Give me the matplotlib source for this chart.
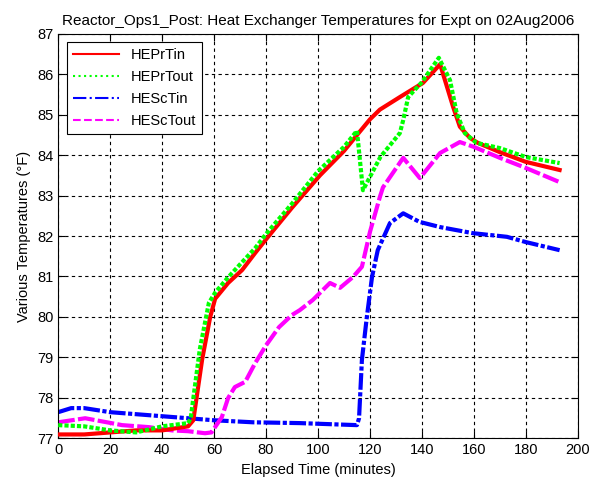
import numpy as np
import matplotlib
matplotlib.use('Agg')
import matplotlib.pyplot as plt
from matplotlib.lines import Line2D

plt.rcParams['font.family'] = ['Liberation Sans', 'DejaVu Sans']

# values (minutes, degF)
t_prtin = [0, 10, 20, 30, 40, 50, 52, 55.4, 58.5, 60.4, 65.4, 70.8, 75.8, 80.4, 90, 100.8,
           110, 116, 120, 123.8, 131.5, 140.4, 147, 152, 154.6, 158.5, 161.5, 170, 180, 193]
T_prtin = [77.1, 77.1, 77.15, 77.2, 77.2, 77.3, 77.45, 78.95, 80.0, 80.45, 80.84, 81.16, 81.58, 81.95,
           82.7, 83.5, 84.1, 84.57, 84.88, 85.12, 85.43, 85.78, 86.24, 85.19, 84.7, 84.42, 84.3,
           84.07, 83.83, 83.63]

t_prtout = [0, 10, 20, 30, 40, 50, 51, 54.5, 58, 60.4, 65, 70, 75.8, 80, 90, 100, 110, 115, 117.3,
            124, 131.5, 132.8, 134.7, 140, 146.5, 150.8, 153.4, 156.5, 161, 170, 180, 193]
T_prtout = [77.33, 77.3, 77.2, 77.15, 77.3, 77.38, 77.5, 79.2, 80.35, 80.6, 80.95, 81.3, 81.7, 82.05,
            82.8, 83.6, 84.2, 84.6, 83.13, 83.95, 84.54, 84.86, 85.43, 85.8, 86.4, 85.85, 85.03, 84.54,
            84.3, 84.17, 83.95, 83.8]

t_sctin = [0, 5, 10, 20, 30, 40, 50, 60, 75, 93, 115, 115.8, 116.9, 118.8, 120.8, 123, 127.7,
           132.8, 139, 147, 159.6, 172.7, 180, 193]
T_sctin = [77.65, 77.75, 77.75, 77.65, 77.6, 77.55, 77.5, 77.45, 77.4, 77.38, 77.33, 77.5, 78.94,
           80.0, 80.99, 81.65, 82.32, 82.56, 82.35, 82.22, 82.07, 81.98, 81.85, 81.65]

t_sctout = [0, 10.4, 24.6, 35, 43.8, 50, 56.5, 59, 63, 65.4, 68, 72, 75.8, 80, 85, 90, 93, 98,
            104.6, 108.5, 113.5, 116.9, 120, 123.8, 125, 132.8, 139.2, 147, 154.6, 160, 170, 180, 193]
T_sctout = [77.4, 77.5, 77.33, 77.28, 77.2, 77.18, 77.13, 77.15, 77.53, 78.0, 78.27, 78.4, 78.86,
            79.3, 79.75, 80.05, 80.17, 80.42, 80.84, 80.72, 80.99, 81.24, 82.1, 82.96, 83.2, 83.93,
            83.43, 84.05, 84.32, 84.2, 83.93, 83.68, 83.33]

xticks = list(range(0, 201, 20))
yticks = list(range(77, 88))

fig = plt.figure(figsize=(6.0, 4.87), dpi=100)
ax = fig.add_axes([0.097, 0.0996, 0.866, 0.8316])

ax.plot(t_prtin, T_prtin, color='#ff0000', lw=3.0, ls='-', zorder=3)
ax.plot(t_prtout, T_prtout, color='#00ff00', lw=3.0, dashes=(1.0, 0.5), zorder=4)
ax.plot(t_sctin, T_sctin, color='#0000ff', lw=3.0, dashes=(4, 0.6, 1, 0.6), zorder=2)
ax.plot(t_sctout, T_sctout, color='#ff00ff', lw=3.0, dashes=(4, 0.8), zorder=2)

ax.set_xlim(0, 200)
ax.set_ylim(77, 87)
ax.set_xticks(xticks)
ax.set_yticks(yticks)
ax.tick_params(direction='in', length=5, top=True, right=True, labelsize=10.5, width=0.8)
ax.grid(True, color='black', ls=(0, (3, 3)), lw=0.8)
for s in ax.spines.values():
    s.set_linewidth(0.8)

ax.set_title('Reactor_Ops1_Post: Heat Exchanger Temperatures for Expt on 02Aug2006', fontsize=11, pad=6)
ax.set_xlabel('Elapsed Time (minutes)', fontsize=10.5)
ax.set_ylabel('Various Temperatures (\u00b0F)', fontsize=10.5)

handles = [Line2D([], [], color='#ff0000', lw=1.5, ls='-'),
           Line2D([], [], color='#00ff00', lw=1.5, ls=':'),
           Line2D([], [], color='#0000ff', lw=1.5, ls='-.'),
           Line2D([], [], color='#ff00ff', lw=1.5, ls='--')]
leg = ax.legend(handles, ['HEPrTin', 'HEPrTout', 'HEScTin', 'HEScTout'], loc='upper left',
                fancybox=False, edgecolor='black', framealpha=1, fontsize=10.5,
                handlelength=3.2, borderaxespad=0.6, labelspacing=0.55)
leg.get_frame().set_linewidth(0.8)
leg.set_zorder(10)

fig.savefig('out.png', dpi=100)
